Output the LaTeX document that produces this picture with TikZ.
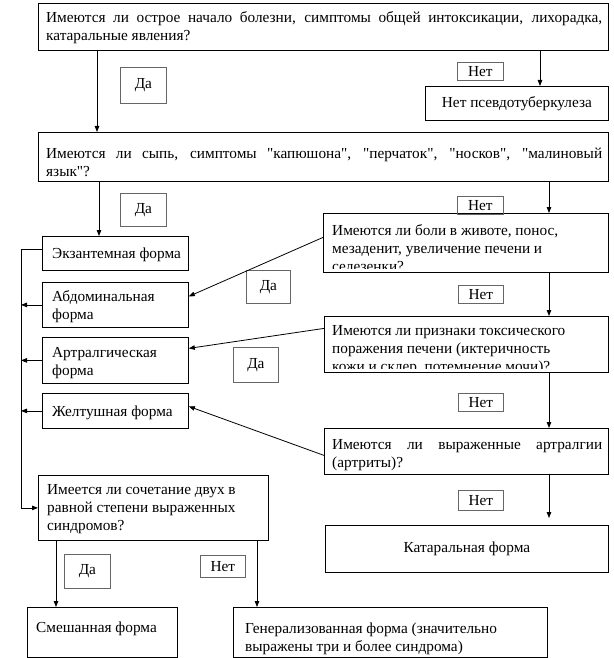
\documentclass[tikz,border=0pt]{standalone}
\usepackage{fontspec}
\setmainfont{Liberation Serif}[Ligatures=TeXOff]
\usetikzlibrary{arrows.meta}
\begin{document}
\begin{tikzpicture}[x=1pt,y=-1pt,
  fnt/.style={font=\fontsize{15.3}{18}\selectfont},
  box/.style={draw, line width=0.8pt, inner sep=0pt, anchor=north west, fnt},
  tag/.style={draw=black!60, line width=0.8pt, inner sep=0pt, anchor=north west, fnt},
  txt/.style={inner sep=0pt, anchor=base west, fnt, align=left},
  arr/.style={line width=0.8pt, -{Triangle[length=6pt,width=4.5pt]}},
  ln/.style={line width=0.8pt}]
\useasboundingbox (0,0) rectangle (613,658);

% ---------- boxes ----------
\node[box, minimum width=570pt, minimum height=47pt] (q1) at (38,3) {};
\node[box, minimum width=183pt, minimum height=34pt] (nopt) at (425,86) {Нет псевдотуберкулеза};
\node[box, minimum width=570pt, minimum height=49pt] (q2) at (38,132) {};
\node[box, minimum width=285pt, minimum height=59pt] (q3) at (323,213) {};
\node[box, minimum width=146pt, minimum height=34pt] (ekz) at (42,236) {};
\node[box, minimum width=146pt, minimum height=45pt] (abd) at (42,282) {};
\node[box, minimum width=146pt, minimum height=46pt] (art) at (42,337) {};
\node[box, minimum width=146pt, minimum height=35pt] (zhelt) at (42,393) {};
\node[box, minimum width=284pt, minimum height=56pt] (q4) at (324,316) {};
\node[box, minimum width=284pt, minimum height=46pt] (q5) at (324,428) {};
\node[box, minimum width=283pt, minimum height=47pt] (kat) at (325,525) {Катаральная форма};
\node[box, minimum width=230pt, minimum height=65pt] (q6) at (38,475) {};
\node[box, minimum width=150pt, minimum height=50pt] (smesh) at (27,607) {};
\node[box, minimum width=314pt, minimum height=50pt] (gen) at (233,607) {};

% ---------- texts (anchor = baseline of last line) ----------
\node[txt] (q1t) at (46,41) {\makebox[556pt][s]{Имеются ли острое начало болезни, симптомы общей интоксикации, лихорадка,}\\катаральные явления?};
\node[txt] (q2t) at (46,176) {\makebox[556pt][s]{Имеются ли сыпь, симптомы "капюшона", "перчаток", "носков", "малиновый}\\язык"?};
\begin{scope}
  \clip (q3.north west) rectangle ([yshift=4pt]q3.south east);
  \node[txt] (q3t) at (332,271) {Имеются ли боли в животе, понос,\\мезаденит, увеличение печени и\\селезенки?};
\end{scope}
\begin{scope}
  \clip (q4.north west) rectangle ([yshift=4pt]q4.south east);
  \node[txt] (q4t) at (332,371) {Имеются ли признаки токсического\\поражения печени (иктеричность\\кожи и склер, потемнение мочи)?};
\end{scope}
\node[txt] (q5t) at (332,467) {\makebox[270pt][s]{Имеются ли выраженные артралгии}\\(артриты)?};
\node[txt] (ekzt) at (52,258) {Экзантемная форма};
\node[txt] (abdt) at (52,319) {Абдоминальная\\форма};
\node[txt] (artt) at (52,375) {Артралгическая\\форма};
\node[txt] (zheltt) at (52,416) {Желтушная форма};
\node[txt] (q6t) at (47,530) {Имеется ли сочетание двух в\\равной степени выраженных\\синдромов?};
\node[txt] (smesht) at (36,632) {Смешанная форма};
\node[txt] (gent) at (245,651) {Генерализованная форма (значительно\\выражены три и более синдрома)};

% ---------- tags ----------
\node[tag, minimum width=46pt, minimum height=36pt] (da1) at (120,67) {Да};
\node[tag, minimum width=46pt, minimum height=18pt] (net1) at (457,62) {Нет};
\node[tag, minimum width=46pt, minimum height=33pt] (da2) at (120,193) {Да};
\node[tag, minimum width=46pt, minimum height=18pt] (net2) at (457,196) {Нет};
\node[tag, minimum width=44pt, minimum height=33pt] (da3) at (246,270) {Да};
\node[tag, minimum width=45pt, minimum height=18pt] (net3) at (458,285) {Нет};
\node[tag, minimum width=45pt, minimum height=35pt] (da4) at (233,347) {Да};
\node[tag, minimum width=45pt, minimum height=18pt] (net4) at (458,393) {Нет};
\node[tag, minimum width=45pt, minimum height=20pt] (net5) at (458,490) {Нет};
\node[tag, minimum width=46pt, minimum height=34pt] (da6) at (64,554) {Да};
\node[tag, minimum width=45pt, minimum height=22pt] (net6) at (200,555) {Нет};

% ---------- connectors ----------
\coordinate (c1) at (97,0);
\coordinate (c2) at (540,0);
\coordinate (c3) at (99,0);
\coordinate (c4) at (549,0);
\coordinate (c7) at (56,0);
\coordinate (c8) at (257,0);
\coordinate (bus) at (21,0);
\coordinate (kend) at (549,518);
\coordinate (e1) at ([yshift=4pt]ekz.west);

\draw[arr] (q1.south -| c1) -- (q2.north -| c1);
\draw[arr] (q1.south -| c2) -- (nopt.north -| c2);
\draw[arr] (q2.south -| c3) -- (ekz.north -| c3);
\draw[arr] (q2.south -| c4) -- (q3.north -| c4);
\draw[arr] (q3.south -| c4) -- (q4.north -| c4);
\draw[arr] (q4.south -| c4) -- (q5.north -| c4);
\draw[arr] (q5.south -| c4) -- (kend);

\draw[arr] ([yshift=5.5pt]q3.west) -- ([yshift=8.5pt]abd.east);
\draw[arr] ([yshift=16pt]q4.west) -- ([yshift=12pt]art.east);
\draw[arr] ([yshift=-4pt]q5.west) -- ([yshift=4.5pt]zhelt.east);

\draw[arr] (e1) -- (e1 -| bus) -- (q6.west -| bus) -- (q6.west);
\draw[arr] (abd.west) -- (abd.west -| bus);
\draw[arr] (art.west) -- (art.west -| bus);
\draw[arr] (zhelt.west) -- (zhelt.west -| bus);

\draw[arr] (q6.south -| c7) -- (smesh.north -| c7);
\draw[arr] (q6.south -| c8) -- (gen.north -| c8);
\end{tikzpicture}
\end{document}
